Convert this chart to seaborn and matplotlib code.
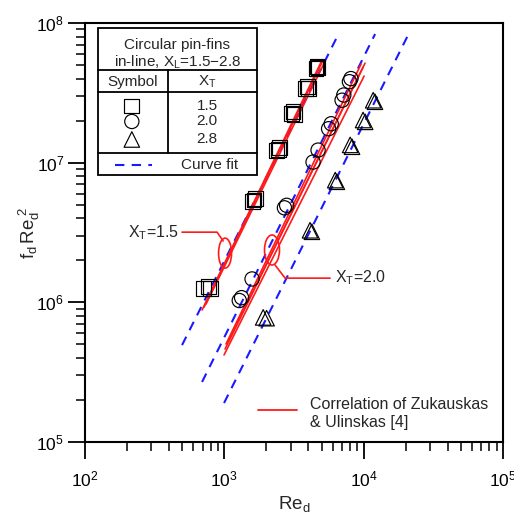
import numpy as np
import pandas as pd
import matplotlib
matplotlib.use('Agg')
import matplotlib.pyplot as plt
import matplotlib.ticker as mticker
from matplotlib.patches import Ellipse, Rectangle
from matplotlib.lines import Line2D
from matplotlib.transforms import ScaledTranslation
import seaborn as sns

# measured points, Re_d and f_d*Re_d^2 (overlapping repeat runs kept)
re_15 = [705, 767, 790, 1600, 1633, 1665, 2380, 2432, 2480, 3050, 3112, 3170,
         3850, 3925, 4000, 4550, 4627, 4700]
fre_15 = [1.25e6, 1.29e6, 1.26e6, 5.3e6, 5.4e6, 5.5e6, 1.22e7, 1.25e7, 1.29e7,
          2.25e7, 2.32e7, 2.22e7, 3.42e7, 3.52e7, 3.40e7, 4.75e7, 4.88e7, 4.82e7]

re_20 = [1280, 1330, 1581, 2700, 2800, 4333, 4706, 5600, 5850, 7000, 7200,
         7900, 8100]
fre_20 = [1.03e6, 1.08e6, 1.47e6, 4.75e6, 4.95e6, 1.01e7, 1.23e7, 1.75e7, 1.90e7,
          2.80e7, 3.05e7, 3.80e7, 4.00e7]

re_28 = [1900, 2010, 4120, 4250, 6250, 6420, 8000, 8250, 9900, 10250, 11700, 12050]
fre_28 = [7.8e5, 7.7e5, 3.28e6, 3.20e6, 7.5e6, 7.3e6, 1.34e7, 1.30e7, 2.02e7,
          1.96e7, 2.80e7, 2.73e7]

# curve fits (end points of the dashed lines)
fit_re = {'1.5': [497, 6650], '2.0': [692, 12080], '2.8': [995, 21180]}
fit_val = {'1.5': [4.94e5, 8.47e7], '2.0': [2.69e5, 8.34e7], '2.8': [1.9e5, 8.47e7]}

# Zukauskas & Ulinskas correlation lines (end points)
corr_re = [[692, 4943], [715, 5113], [739, 5284],
           [995, 10070], [1012, 9910], [1028, 9580], [1064, 10230]]
corr_val = [[8.81e5, 5.25e7], [9.25e5, 5.42e7], [9.72e5, 5.33e7],
            [4.20e5, 4.17e7], [4.63e5, 4.83e7], [5.03e5, 5.08e7], [5.20e5, 5.16e7]]

xt_levels = ['1.5', '2.0', '2.8']
markers = {'1.5': 's', '2.0': 'o', '2.8': '^'}
msize = {'1.5': 115, '2.0': 105, '2.8': 125}

sns.set_theme(style='ticks')
plt.rcParams['font.family'] = ['Liberation Sans', 'DejaVu Sans']
plt.rcParams['mathtext.fontset'] = 'custom'
plt.rcParams['mathtext.rm'] = 'Liberation Sans'
plt.rcParams['mathtext.it'] = 'Liberation Sans'

df = pd.DataFrame({
    'Re': re_15 + re_20 + re_28,
    'f': fre_15 + fre_20 + fre_28,
    'XT': ['1.5'] * len(re_15) + ['2.0'] * len(re_20) + ['2.8'] * len(re_28),
})

fit_rows = []
for k in xt_levels:
    for r, v in zip(fit_re[k], fit_val[k]):
        fit_rows.append({'Re': r, 'f': v, 'XT': k})
fit_df = pd.DataFrame(fit_rows)

corr_rows = []
for i, (rr, vv) in enumerate(zip(corr_re, corr_val)):
    for r, v in zip(rr, vv):
        corr_rows.append({'Re': r, 'f': v, 'line': i})
corr_df = pd.DataFrame(corr_rows)

fig = plt.figure(figsize=(5.14, 5.17), dpi=100)
ax = fig.add_axes([0.1654, 0.1451, 0.8132, 0.8104])
ax.set_xscale('log')
ax.set_yscale('log')

sns.lineplot(data=fit_df, x='Re', y='f', units='XT', estimator=None, ax=ax,
             color='#1a1aff', lw=1.5, dashes=False, legend=False,
             linestyle=(0, (4.5, 3.5)))
sns.lineplot(data=corr_df, x='Re', y='f', units='line', estimator=None, ax=ax,
             color='#ff1a1a', lw=1.2, legend=False)

for k in xt_levels:
    sub = df[df['XT'] == k]
    sns.scatterplot(data=sub, x='Re', y='f', marker=markers[k], s=msize[k],
                    facecolor='none', edgecolor='black', linewidth=0.85, ax=ax,
                    legend=False, zorder=3)

ax.set_xlim(1e2, 1e5)
ax.set_ylim(1e5, 1e8)
ax.xaxis.set_minor_formatter(mticker.NullFormatter())
ax.yaxis.set_minor_formatter(mticker.NullFormatter())
ax.tick_params(which='major', direction='out', length=12, width=1.3,
               labelsize=12.5, colors='black', pad=3)
ax.tick_params(axis='x', which='major', pad=8)
ax.tick_params(which='minor', direction='out', length=6.5, width=1.3)
ax.tick_params(top=False, right=False, which='both')
for sp in ax.spines.values():
    sp.set_visible(True)
    sp.set_linewidth(1.5)
    sp.set_color('black')

ax.set_xlabel(r'Re$_\mathrm{d}$', fontsize=13.5, labelpad=3)
ax.set_ylabel(r'f$_\mathrm{d}\,$Re$_\mathrm{d}^{\ 2}$', fontsize=13.5, labelpad=-4)

# callout ellipses and leaders
def ellipse_at(x, y, w, h):
    tr = fig.dpi_scale_trans + ScaledTranslation(x, y, ax.transData)
    ax.add_patch(Ellipse((0, 0), w, h, transform=tr, fill=False,
                         edgecolor='#ff1a1a', lw=1.2, zorder=4))

ellipse_at(1012, 2.25e6, 0.13, 0.30)
ellipse_at(2198, 2.37e6, 0.15, 0.30)
ax.plot([497, 887, 980], [3.18e6, 3.18e6, 2.75e6], color='#ff1a1a', lw=1.2)
ax.plot([2312, 2729, 5740], [1.85e6, 1.49e6, 1.49e6], color='#ff1a1a', lw=1.2)
ax.text(470, 3.18e6, r'X$_\mathrm{T}$=1.5', ha='right', va='center', fontsize=11.5)
ax.text(6240, 1.49e6, r'X$_\mathrm{T}$=2.0', ha='left', va='center', fontsize=11.5)

# correlation key
ax.add_line(Line2D([0.414, 0.507], [0.0764, 0.0764], transform=ax.transAxes,
                   color='#ff1a1a', lw=1.3))
ax.text(0.538, 0.089, 'Correlation of Zukauskas', transform=ax.transAxes,
        ha='left', va='center', fontsize=11.5)
ax.text(0.538, 0.046, '& Ulinskas [4]', transform=ax.transAxes,
        ha='left', va='center', fontsize=11.5)

# table-style legend
T = ax.transAxes
ax.add_patch(Rectangle((0.0311, 0.637), 0.3804, 0.351, transform=T, fill=True,
                       facecolor='white', edgecolor='black', lw=1.3, zorder=5))
for yy in [0.888, 0.835, 0.690]:
    ax.add_line(Line2D([0.0311, 0.4115], [yy, yy], transform=T, color='black',
                       lw=1.3, zorder=6))
ax.add_line(Line2D([0.1986, 0.1986], [0.888, 0.690], transform=T, color='black',
                   lw=1.3, zorder=6))
ax.text(0.221, 0.947, 'Circular pin-fins', transform=T, ha='center', va='center',
        fontsize=11, zorder=6)
ax.text(0.221, 0.907, r'in-line, X$_\mathrm{L}$=1.5$-$2.8', transform=T,
        ha='center', va='center', fontsize=11, zorder=6)
ax.text(0.115, 0.859, 'Symbol', transform=T, ha='center', va='center',
        fontsize=11, zorder=6)
ax.text(0.292, 0.859, r'X$_\mathrm{T}$', transform=T, ha='center', va='center',
        fontsize=11, zorder=6)
for k, yy in zip(xt_levels, [0.802, 0.765, 0.722]):
    ax.scatter([0.112], [yy], transform=T, marker=markers[k], s=msize[k],
               facecolor='none', edgecolor='black', linewidth=0.85, zorder=6)
    ax.text(0.292, yy, k, transform=T, ha='center', va='center', fontsize=11,
            zorder=6)
ax.add_line(Line2D([0.072, 0.160], [0.661, 0.661], transform=T, color='#1a1aff',
                   lw=1.5, linestyle=(0, (4.5, 3.5)), zorder=6))
ax.text(0.299, 0.661, 'Curve fit', transform=T, ha='center', va='center',
        fontsize=11, zorder=6)

fig.savefig('out.png', dpi=100)
plt.close(fig)
